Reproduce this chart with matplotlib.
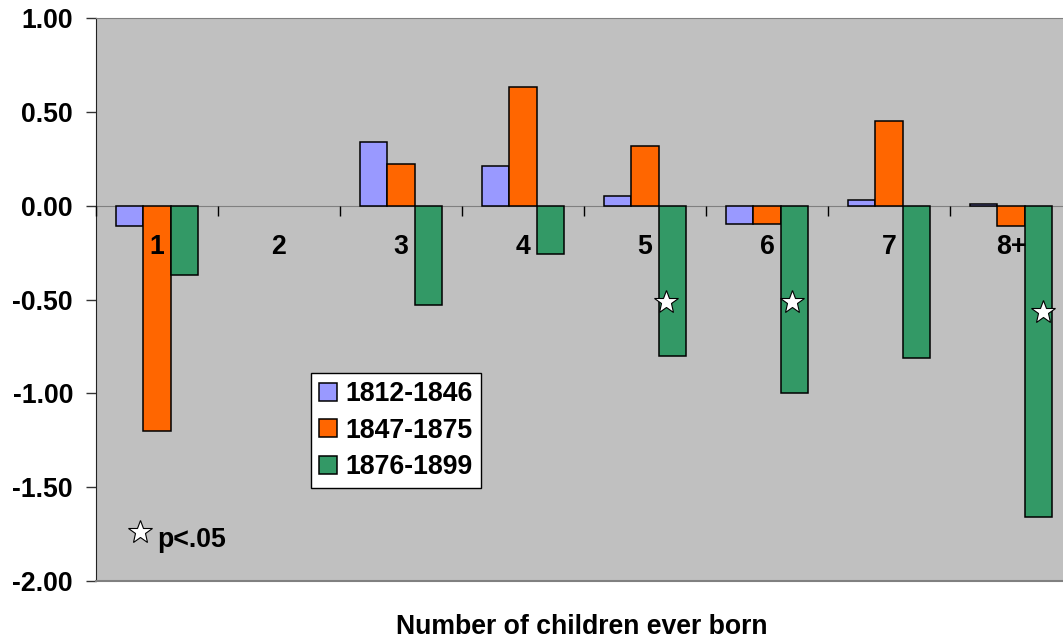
import matplotlib
matplotlib.use("Agg")
import matplotlib.pyplot as plt
import numpy as np

categories = ["1", "2", "3", "4", "5", "6", "7", "8+"]
series_names = ["1812-1846", "1847-1875", "1876-1899"]
# category "2" is the reference group (no bars)
s1812 = [-0.11, np.nan, 0.34, 0.21, 0.05, -0.10, 0.03, 0.01]
s1847 = [-1.20, np.nan, 0.22, 0.63, 0.32, -0.10, 0.45, -0.11]
s1876 = [-0.37, np.nan, -0.53, -0.26, -0.80, -1.00, -0.81, -1.66]
colors = ["#9999FF", "#FF6600", "#339966"]
# significance stars: (category index, y value)
star_cats = [4, 5, 7]
star_vals = [-0.515, -0.515, -0.565]
yticks = [1.0, 0.5, 0.0, -0.5, -1.0, -1.5, -2.0]

plt.rcParams['font.family'] = ['Liberation Sans', 'DejaVu Sans']
plt.rcParams['font.weight'] = 'bold'
FS = 19.2

W, H = 1063, 639
fig = plt.figure(figsize=(W/100, H/100), dpi=100)
left, right, top, bottom = 96, 1072, 18, 581
ax = fig.add_axes([left/W, 1-bottom/H, (right-left)/W, (bottom-top)/H])
ax.set_facecolor("#C0C0C0")

x = np.arange(len(categories))
bw = 0.224
for i, (vals, c, name) in enumerate(zip([s1812, s1847, s1876], colors, series_names)):
    ax.bar(x + (i-1)*bw, vals, width=bw, color=c, edgecolor="black", linewidth=1.1,
           label=name, zorder=1)

sx = [x[k] + bw + off for k, off in zip(star_cats, [-0.05, -0.02, 0.04])]
ax.plot(sx, star_vals, linestyle="none", marker="*", markersize=18,
        markerfacecolor="white", markeredgecolor="black", markeredgewidth=0.8, zorder=4)

ax.set_xlim(-0.5, len(categories)-0.5)
ax.set_ylim(-2.0, 1.0)
ax.set_yticks(yticks)
ax.set_yticklabels([f"{v:.2f}" for v in yticks], fontsize=FS, fontweight='bold')
ax.tick_params(axis='y', direction='out', length=7, width=1, pad=9.5, color="#333333")

ax.spines['bottom'].set_position(('data', 0))
ax.spines['bottom'].set_color("#808080")
ax.spines['bottom'].set_zorder(0.5)
ax.spines['top'].set_color("#808080")
ax.spines['right'].set_visible(False)
ax.spines['left'].set_color("#222222")
ax.axhline(-2.0, color="#808080", linewidth=1.5, clip_on=False, zorder=5)

ax.set_xticks(x)
ax.set_xticklabels(categories, fontsize=FS, fontweight='bold')
ax.tick_params(axis='x', which='major', length=0, pad=20.5)
ax.set_xticks(np.arange(len(categories)+1) - 0.5, minor=True)
ax.tick_params(axis='x', which='minor', direction='out', length=7, width=1, color="black")
ax.xaxis.set_zorder(3)

leg = ax.legend(loc='upper left', bbox_to_anchor=(311/W, 1-373/H), bbox_transform=fig.transFigure,
                borderaxespad=0, fancybox=False, framealpha=1, edgecolor="black",
                prop={'size': FS, 'weight': 'bold'}, handlelength=0.67, handleheight=0.67,
                handletextpad=0.32, labelspacing=0.4, borderpad=0.3)
leg.get_frame().set_linewidth(1.0)
leg.set_zorder(6)

ax.plot([-0.14], [-1.74], linestyle="none", marker="*", markersize=18,
        markerfacecolor="white", markeredgecolor="black", markeredgewidth=0.8, zorder=4)
ax.text(-0.0, -1.78, "p<.05", fontsize=FS, fontweight='bold', va='center', ha='left')

fig.text(582/W, 1-634/H, "Number of children ever born", fontsize=FS, fontweight='bold',
         ha='center', va='baseline')

fig.savefig("out.png", dpi=100)
